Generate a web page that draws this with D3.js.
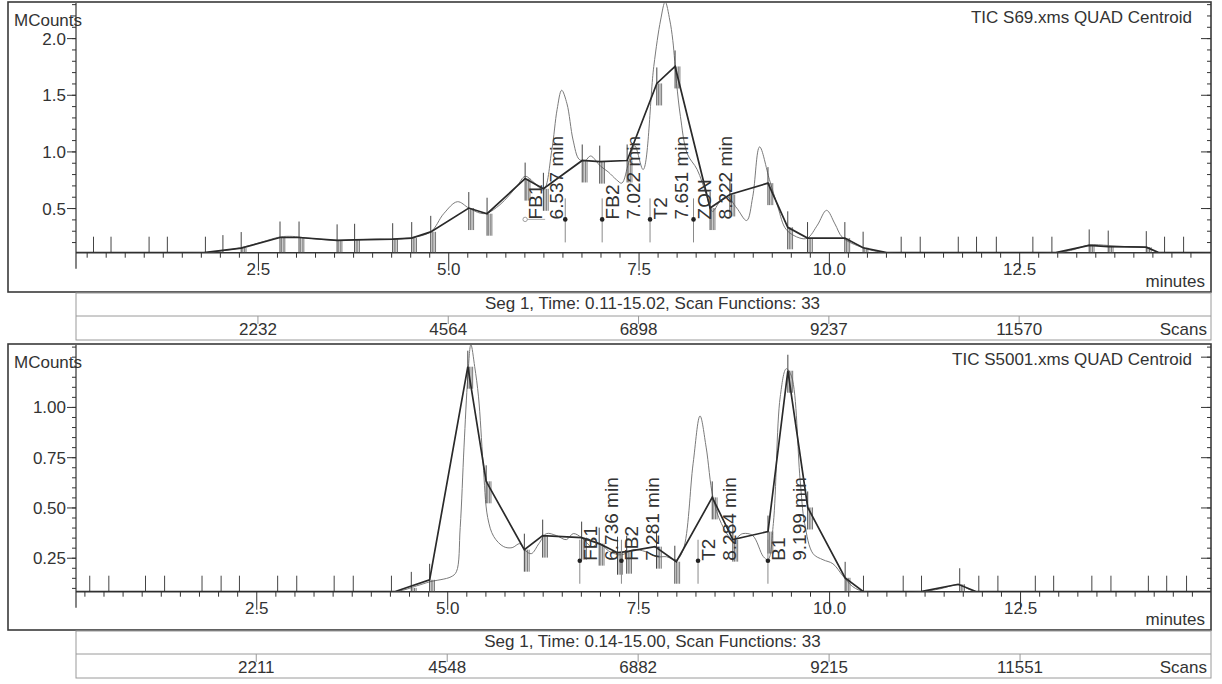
<!DOCTYPE html>
<html>
<head>
<meta charset="utf-8">
<script src="https://cdnjs.cloudflare.com/ajax/libs/d3/7.8.5/d3.min.js"></script>
<style>
body { margin: 0; background: #fff; }
svg { font-family: "Liberation Sans", Arial, sans-serif; }
</style>
</head>
<body>
<svg width="1222" height="684"></svg>
<script>
// ---- S69 (top chromatogram) ----
var s69Title = "TIC S69.xms QUAD Centroid";
var s69Seg = "Seg 1, Time: 0.11-15.02, Scan Functions: 33";
var s69TimeRange = [0.11, 15.02];
var s69CountRange = [0.106, 2.31];
var s69YTicks = [0.5, 1.0, 1.5, 2.0];
var s69YMinor = d3.range(0.2, 2.31, 0.1);

// thin trace (raw TIC)
var s69TicT = [0.11, 1.79, 2.05, 2.28, 2.55, 2.79, 2.95, 3.15, 3.54, 3.77, 4.05, 4.27, 4.52, 4.77, 4.94, 5.12, 5.27, 5.42, 5.51, 5.68, 5.9, 6.01, 6.12, 6.25, 6.36, 6.43, 6.49, 6.56, 6.64, 6.72, 6.8, 6.87, 7.0, 7.1, 7.21, 7.28, 7.37, 7.45, 7.56, 7.7, 7.79, 7.85, 7.91, 7.95, 8.0, 8.05, 8.14, 8.27, 8.39, 8.47, 8.57, 8.66, 8.79, 8.92, 9.0, 9.09, 9.22, 9.33, 9.44, 9.62, 9.72, 9.85, 9.97, 10.08, 10.18, 10.45, 10.76, 12.98, 13.2, 13.42, 13.67, 13.9, 14.17, 14.34, 15.02];
var s69TicV = [0.106, 0.106, 0.125, 0.15, 0.2, 0.245, 0.25, 0.235, 0.215, 0.22, 0.225, 0.225, 0.24, 0.29, 0.45, 0.556, 0.5, 0.455, 0.455, 0.53, 0.69, 0.78, 0.73, 0.66, 1.01, 1.37, 1.54, 1.42, 1.1, 0.93, 0.92, 0.96, 0.87, 0.82, 0.75, 0.72, 0.9, 1.05, 0.84, 1.75, 2.16, 2.32, 2.16, 1.98, 1.6, 1.31, 0.98, 0.84, 0.62, 0.47, 0.56, 0.6, 0.5, 0.39, 0.6, 1.04, 0.75, 0.51, 0.31, 0.235, 0.235, 0.35, 0.48, 0.36, 0.24, 0.15, 0.106, 0.106, 0.13, 0.175, 0.17, 0.16, 0.15, 0.106, 0.106];

// thick trace (integration line)
var s69FitT = [0.11, 1.79, 2.28, 2.79, 3.04, 3.54, 3.77, 4.27, 4.52, 4.77, 5.27, 5.51, 6.01, 6.25, 6.76, 6.99, 7.35, 7.74, 7.98, 8.44, 8.70, 9.20, 9.46, 9.72, 10.21, 10.45, 10.76, 12.98, 13.42, 13.67, 14.17, 14.34, 15.02];
var s69FitV = [0.106, 0.106, 0.147, 0.24, 0.24, 0.215, 0.22, 0.225, 0.235, 0.29, 0.5, 0.45, 0.76, 0.67, 0.92, 0.91, 0.92, 1.6, 1.75, 0.5, 0.62, 0.72, 0.33, 0.235, 0.235, 0.15, 0.106, 0.106, 0.17, 0.16, 0.155, 0.106, 0.106];

// scan markers
var s69MarkT = [0.34, 0.57, 1.07, 1.31, 1.81, 2.04, 2.28, 2.79, 3.04, 3.54, 3.77, 4.27, 4.52, 4.77, 5.27, 5.51, 6.01, 6.25, 6.76, 6.99, 7.35, 7.74, 7.98, 8.44, 8.70, 9.20, 9.46, 9.72, 10.21, 10.45, 10.95, 11.2, 11.7, 11.94, 12.2, 12.68, 12.93, 13.42, 13.67, 14.17, 14.41, 14.66];
var s69MarkV = [0.106, 0.106, 0.106, 0.106, 0.106, 0.12, 0.147, 0.24, 0.24, 0.215, 0.22, 0.225, 0.235, 0.29, 0.5, 0.45, 0.76, 0.67, 0.92, 0.91, 0.92, 1.6, 1.75, 0.5, 0.62, 0.72, 0.33, 0.235, 0.235, 0.15, 0.106, 0.106, 0.106, 0.106, 0.106, 0.106, 0.106, 0.17, 0.16, 0.155, 0.106, 0.106];

// identified peaks
var s69PeakNames = ["FB1", "FB2", "T2", "ZON"];
var s69PeakTimes = [6.537, 7.022, 7.651, 8.222];
var s69PeakLabelAt = [6.01, 7.022, 7.651, 8.222];
var s69PeakDot = 0.40;

var s69ScanMin = [2.5, 5.0, 7.5, 10.0, 12.5];
var s69ScanLabels = ["2232", "4564", "6898", "9237", "11570"];

// ---- S5001 (bottom chromatogram) ----
var s5001Title = "TIC S5001.xms QUAD Centroid";
var s5001Seg = "Seg 1, Time: 0.14-15.00, Scan Functions: 33";
var s5001TimeRange = [0.14, 15.00];
var s5001CountRange = [0.081, 1.308];
var s5001YTicks = [0.25, 0.5, 0.75, 1.0];
var s5001YMinor = d3.range(0.1, 1.31, 0.05);

var s5001TicT = [0.14, 4.31, 4.6, 4.77, 5.05, 5.12, 5.17, 5.22, 5.27, 5.31, 5.36, 5.41, 5.47, 5.53, 5.61, 5.74, 5.85, 5.95, 6.01, 6.1, 6.2, 6.3, 6.43, 6.56, 6.65, 6.76, 6.89, 6.99, 7.13, 7.28, 7.43, 7.6, 7.74, 7.87, 8.0, 8.09, 8.22, 8.31, 8.39, 8.48, 8.59, 8.74, 8.87, 9.0, 9.14, 9.2, 9.27, 9.36, 9.44, 9.51, 9.62, 9.68, 9.79, 9.92, 10.05, 10.18, 10.31, 10.47, 11.2, 11.45, 11.69, 11.93, 15.0];
var s5001TicV = [0.081, 0.081, 0.11, 0.13, 0.155, 0.18, 0.4, 0.8, 1.15, 1.31, 1.2, 1.05, 0.72, 0.45, 0.355, 0.305, 0.3, 0.32, 0.29, 0.27, 0.32, 0.37, 0.36, 0.34, 0.37, 0.35, 0.305, 0.32, 0.28, 0.264, 0.29, 0.28, 0.255, 0.255, 0.24, 0.29, 0.72, 0.955, 0.8, 0.55, 0.42, 0.34, 0.37, 0.36, 0.255, 0.24, 0.42, 1.05, 1.19, 1.15, 0.64, 0.42, 0.27, 0.24, 0.22, 0.16, 0.106, 0.081, 0.081, 0.095, 0.115, 0.081, 0.081];

var s5001FitT = [0.14, 4.31, 4.77, 5.27, 5.51, 6.01, 6.25, 6.76, 6.99, 7.23, 7.35, 7.72, 8.0, 8.47, 8.74, 9.2, 9.46, 9.72, 10.21, 10.45, 11.2, 11.69, 11.93, 15.0];
var s5001FitV = [0.081, 0.081, 0.14, 1.2, 0.63, 0.29, 0.36, 0.35, 0.32, 0.275, 0.28, 0.305, 0.23, 0.55, 0.34, 0.38, 1.18, 0.5, 0.15, 0.081, 0.081, 0.118, 0.081, 0.081];

var s5001MarkT = [0.32, 0.57, 1.05, 1.30, 1.79, 2.04, 2.28, 2.78, 3.03, 3.52, 3.77, 4.27, 4.53, 4.77, 5.27, 5.51, 6.01, 6.25, 6.76, 6.99, 7.23, 7.35, 7.74, 7.98, 8.47, 8.74, 9.20, 9.46, 9.72, 10.21, 10.45, 10.97, 11.21, 11.71, 11.96, 12.21, 12.70, 12.94, 13.44, 13.69, 14.18, 14.42, 14.68];
var s5001MarkV = [0.081, 0.081, 0.081, 0.081, 0.081, 0.081, 0.081, 0.081, 0.081, 0.081, 0.081, 0.081, 0.1, 0.14, 1.2, 0.63, 0.29, 0.36, 0.35, 0.32, 0.275, 0.28, 0.305, 0.23, 0.55, 0.34, 0.38, 1.18, 0.5, 0.15, 0.081, 0.081, 0.081, 0.118, 0.081, 0.081, 0.081, 0.081, 0.081, 0.081, 0.081, 0.081, 0.081];

var s5001PeakNames = ["FB1", "FB2", "T2", "B1"];
var s5001PeakTimes = [6.736, 7.281, 8.284, 9.199];
var s5001PeakLabelAt = [6.736, 7.281, 8.284, 9.199];
var s5001PeakDot = 0.235;

var s5001ScanMin = [2.5, 5.0, 7.5, 10.0, 12.5];
var s5001ScanLabels = ["2211", "4548", "6882", "9215", "11551"];

var svg = d3.select("svg");
var left = 76, right = 1211;
var ink = "#333";

function zip(ts, vs) { return ts.map(function(t, i) { return [t, vs[i]]; }); }

function drawPanel(p) {
    var g = svg.append("g");
    var x = d3.scaleLinear().domain(p.timeRange).range([left, right]);
    var y = d3.scaleLinear().domain(p.countRange).range([p.base, p.top]);

    //Cadre
    g.append("rect")
        .attr("x", 8).attr("y", p.boxTop)
        .attr("width", right - 8).attr("height", p.boxBottom - p.boxTop)
        .attr("fill", "none").attr("stroke", "#3a3a3a").attr("stroke-width", 1.6);

    // clip for the traces
    var clipId = "clip" + p.id;
    svg.append("clipPath").attr("id", clipId)
        .append("rect").attr("x", left).attr("y", p.top).attr("width", right - left).attr("height", p.base - p.top);

    //Axe Y gauche
    g.append("line").attr("x1", left).attr("x2", left).attr("y1", p.top).attr("y2", p.base + 16)
        .attr("stroke", ink).attr("stroke-width", 1.2);

    var yMaj = g.append("g").attr("transform", "translate(" + left + ",0)")
        .call(d3.axisLeft(y).tickValues(p.yTicks).tickSize(9).tickPadding(1).tickFormat(d3.format(p.yFmt)));
    var yMin = g.append("g").attr("transform", "translate(" + left + ",0)")
        .call(d3.axisLeft(y).tickValues(p.yMinor).tickSize(4).tickFormat(""));
    // right side ticks, pointing inwards
    var rMaj = g.append("g").attr("transform", "translate(" + right + ",0)")
        .call(d3.axisLeft(y).tickValues(p.yTicks.concat(p.yExtra)).tickSize(10).tickFormat(""));
    var rMin = g.append("g").attr("transform", "translate(" + right + ",0)")
        .call(d3.axisLeft(y).tickValues(p.yMinor).tickSize(4).tickFormat(""));

    //Axe X
    g.append("line").attr("x1", left).attr("x2", right).attr("y1", p.base).attr("y2", p.base)
        .attr("stroke", ink).attr("stroke-width", 1.4);
    var xMinor = d3.range(0.25, 15.01, 0.25).filter(function(d) { return Math.abs(d / 2.5 - Math.round(d / 2.5)) > 0.01; });
    var xMaj = g.append("g").attr("transform", "translate(0," + p.base + ")")
        .call(d3.axisBottom(x).tickValues(p.scanMin).tickSize(18).tickPadding(-8).tickFormat(d3.format(".1f")));
    var xMin = g.append("g").attr("transform", "translate(0," + p.base + ")")
        .call(d3.axisBottom(x).tickValues(xMinor).tickSize(5).tickFormat(""));

    [yMaj, yMin, rMaj, rMin, xMaj, xMin].forEach(function(a) {
        a.select(".domain").remove();
        a.selectAll("line").attr("stroke", ink).attr("stroke-width", 1);
        a.selectAll("text").attr("fill", ink).attr("font-size", 17)
            .attr("font-family", "'Liberation Sans', Arial, sans-serif");
    });
    yMaj.selectAll("text").attr("dy", "0.35em");

    //Textes
    g.append("text").attr("x", 14).attr("y", p.boxTop + 24).attr("font-size", 17).attr("fill", ink).text("MCounts");
    g.append("text").attr("x", 1192).attr("y", p.boxTop + 21).attr("font-size", 17).attr("fill", ink)
        .attr("text-anchor", "end").text(p.title);
    g.append("text").attr("x", 1205).attr("y", p.boxBottom - 5).attr("font-size", 17).attr("fill", ink)
        .attr("text-anchor", "end").text("minutes");

    //Traces
    var line = d3.line().x(function(d) { return x(d[0]); }).y(function(d) { return y(d[1]); });
    var traces = g.append("g").attr("clip-path", "url(#" + clipId + ")");

    traces.append("path")
        .attr("d", line.curve(d3.curveCatmullRom.alpha(0.5))(zip(p.ticT, p.ticV)))
        .attr("fill", "none").attr("stroke", "#7a7a7a").attr("stroke-width", 1);

    // scan markers (tall line + short hatch down toward baseline)
    var marks = zip(p.markT, p.markV);
    var mk = traces.append("g").selectAll("g").data(marks).enter().append("g")
        .attr("transform", function(d) { return "translate(" + x(d[0]) + ",0)"; });
    mk.append("line")
        .attr("y1", function(d) { return y(d[1]) - 16; })
        .attr("y2", function(d) { return Math.min(y(d[1]) + 22, p.base); })
        .attr("stroke", "#444").attr("stroke-width", 1);
    [1.6, 3.2, 4.8].forEach(function(dx) {
        mk.filter(function(d) { return p.base - y(d[1]) > 2; }).append("line")
            .attr("x1", dx).attr("x2", dx)
            .attr("y1", function(d) { return y(d[1]); })
            .attr("y2", function(d) { return Math.min(y(d[1]) + 22, p.base); })
            .attr("stroke", "#555").attr("stroke-width", 0.8);
    });

    traces.append("path")
        .attr("d", line.curve(d3.curveLinear)(zip(p.fitT, p.fitV)))
        .attr("fill", "none").attr("stroke", "#2a2a2a").attr("stroke-width", 1.7);

    //Pics identifies
    var peaks = p.peakNames.map(function(n, i) { return {name: n, t: p.peakTimes[i], at: p.peakLabelAt[i]}; });
    var pk = g.append("g").selectAll("g").data(peaks).enter().append("g");
    var yd = y(p.peakDot);
    pk.append("line")
        .attr("x1", function(d) { return x(d.t); }).attr("x2", function(d) { return x(d.t); })
        .attr("y1", yd - 21).attr("y2", yd + 23)
        .attr("stroke", "#8a8a8a").attr("stroke-width", 1);
    pk.append("circle").attr("cx", function(d) { return x(d.t); }).attr("cy", yd).attr("r", 2.3).attr("fill", "#222");
    // moved labels keep a small open circle + leader
    var moved = pk.filter(function(d) { return d.at !== d.t; });
    moved.append("circle").attr("cx", function(d) { return x(d.at); }).attr("cy", yd).attr("r", 2.2)
        .attr("fill", "none").attr("stroke", "#888").attr("stroke-width", 0.8);
    moved.append("line")
        .attr("x1", function(d) { return x(d.at) + 2; }).attr("x2", function(d) { return x(d.at) + 20; })
        .attr("y1", yd).attr("y2", yd).attr("stroke", "#999").attr("stroke-width", 0.8);
    pk.append("text")
        .attr("transform", function(d) { return "translate(" + (x(d.at) + 17) + "," + yd + ") rotate(-90)"; })
        .attr("font-size", 19).attr("fill", ink).text(function(d) { return d.name; });
    pk.append("text")
        .attr("transform", function(d) { return "translate(" + (x(d.at) + 38) + "," + yd + ") rotate(-90)"; })
        .attr("font-size", 19).attr("fill", ink).text(function(d) { return d3.format(".3f")(d.t) + " min"; });

    //Barre des scans
    var sb = svg.append("g");
    sb.append("rect").attr("x", left).attr("y", p.scanTop).attr("width", right - left).attr("height", p.scanBottom - p.scanTop)
        .attr("fill", "none").attr("stroke", "#9a9a9a").attr("stroke-width", 1);
    sb.append("line").attr("x1", left).attr("x2", right).attr("y1", p.scanSep).attr("y2", p.scanSep)
        .attr("stroke", "#9a9a9a").attr("stroke-width", 1);
    sb.append("text").attr("x", (left + right) / 2 + 9).attr("y", p.scanSep - 7)
        .attr("text-anchor", "middle").attr("font-size", 17).attr("fill", ink).text(p.seg);
    sb.selectAll(".st").data(p.scanMin).enter().append("line")
        .attr("x1", function(d) { return x(d); }).attr("x2", function(d) { return x(d); })
        .attr("y1", p.scanSep).attr("y2", p.scanSep + 8).attr("stroke", "#9a9a9a");
    sb.selectAll(".sl").data(p.scanLabels).enter().append("text")
        .attr("x", function(d, i) { return x(p.scanMin[i]); }).attr("y", p.scanBottom - 5)
        .attr("text-anchor", "middle").attr("font-size", 17).attr("fill", ink).text(function(d) { return d; });
    sb.append("text").attr("x", 1207).attr("y", p.scanBottom - 5).attr("text-anchor", "end")
        .attr("font-size", 17).attr("fill", ink).text("Scans");
}

drawPanel({
    id: "a", title: s69Title, seg: s69Seg,
    timeRange: s69TimeRange, countRange: s69CountRange,
    yTicks: s69YTicks, yMinor: s69YMinor, yExtra: [], yFmt: ".1f",
    ticT: s69TicT, ticV: s69TicV, fitT: s69FitT, fitV: s69FitV,
    markT: s69MarkT, markV: s69MarkV,
    peakNames: s69PeakNames, peakTimes: s69PeakTimes, peakLabelAt: s69PeakLabelAt, peakDot: s69PeakDot,
    scanMin: s69ScanMin, scanLabels: s69ScanLabels,
    boxTop: 2, boxBottom: 292, top: 3, base: 252.7,
    scanTop: 293, scanSep: 316, scanBottom: 340
});

drawPanel({
    id: "b", title: s5001Title, seg: s5001Seg,
    timeRange: s5001TimeRange, countRange: s5001CountRange,
    yTicks: s5001YTicks, yMinor: s5001YMinor, yExtra: [1.25], yFmt: ".2f",
    ticT: s5001TicT, ticV: s5001TicV, fitT: s5001FitT, fitV: s5001FitV,
    markT: s5001MarkT, markV: s5001MarkV,
    peakNames: s5001PeakNames, peakTimes: s5001PeakTimes, peakLabelAt: s5001PeakLabelAt, peakDot: s5001PeakDot,
    scanMin: s5001ScanMin, scanLabels: s5001ScanLabels,
    boxTop: 344, boxBottom: 630, top: 345, base: 591.7,
    scanTop: 631, scanSep: 654, scanBottom: 678
});
</script>
</body>
</html>
